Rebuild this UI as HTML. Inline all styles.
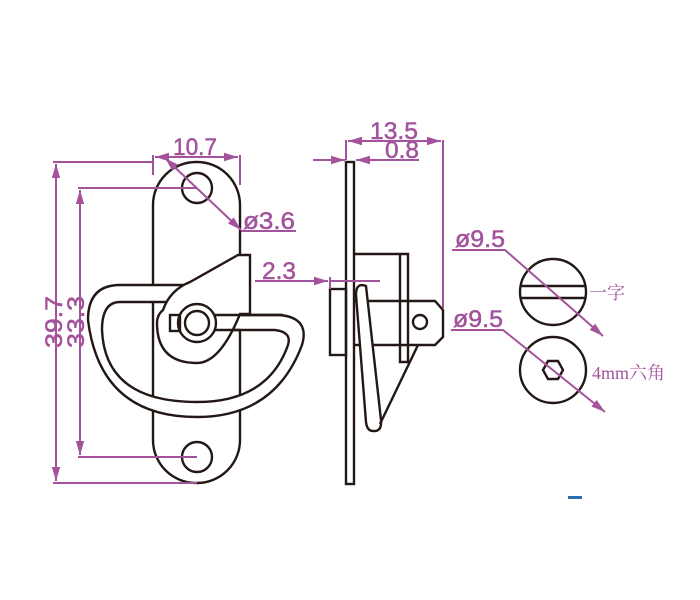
<!DOCTYPE html>
<html><head><meta charset="utf-8"><style>
html,body{margin:0;padding:0;background:#fff;width:700px;height:600px;overflow:hidden}
svg{display:block}
.k{fill:none;stroke:#231815;stroke-width:2.4}
.p{stroke:#a3539c;stroke-width:2;fill:none}
.t{fill:#a3539c;stroke:#a3539c;stroke-width:0.5;font-family:"Liberation Sans",sans-serif;font-size:24px}
.c{fill:#a3539c;font-family:"Liberation Serif","Noto Serif CJK SC",serif;font-size:18px}
</style></head><body>
<svg width="700" height="600" viewBox="0 0 700 600">
<defs><marker id="a" viewBox="0 0 10 10" refX="10" refY="5" markerWidth="9" markerHeight="7" orient="auto-start-reverse"><path d="M0,2 L10,5 L0,8 z" fill="#a3539c"/></marker></defs>
<rect x="153" y="162" width="87" height="321" rx="43" class="k"/>
<circle cx="197" cy="188" r="15" class="k" fill="#fff"/>
<circle cx="197" cy="457" r="15" class="k" fill="#fff"/>
<path d="M183,285 L120,285 Q88,285 88,320 Q100,417 197,417 Q275,417 302,345 Q310,318 280,315 L215,315 L215,330 L275,330 Q292,332 288,345 Q268,402 197,402 Q105,402 102,330 Q102,302 120,302 L190,302 Z" fill="#fff" stroke="#231815" stroke-width="2.4"/>
<path d="M163,310 Q170,290 190,282 L238,255 L250,255 L250,314 L240,314 Q220,363 197,363 Q157,363 157,323 Q157,315 163,310 Z" fill="#fff" stroke="#231815" stroke-width="2.4"/>
<rect x="170" y="315" width="10" height="16" class="k" fill="#fff"/>
<circle cx="197" cy="323" r="19" class="k" fill="#fff"/>
<circle cx="197" cy="323" r="12" class="k"/>
<path d="M215,315 L283,315 M215,330 L240,330" class="k"/>
<path d="M53,162 H153 M53,483 H197 M78,188 H197 M78,457 H197" class="p"/>
<path d="M56,164 V481" class="p" marker-start="url(#a)" marker-end="url(#a)"/>
<path d="M80,190 V455" class="p" marker-start="url(#a)" marker-end="url(#a)"/>
<text class="t" transform="translate(62,348) rotate(-90)" textLength="52" lengthAdjust="spacingAndGlyphs">39.7</text>
<text class="t" transform="translate(84,348) rotate(-90)" textLength="52" lengthAdjust="spacingAndGlyphs">33.3</text>
<path d="M153,155 V175 M240,155 V185" class="p"/>
<path d="M155,157 H238" class="p" marker-start="url(#a)" marker-end="url(#a)"/>
<text class="t" x="173" y="155" textLength="44" lengthAdjust="spacingAndGlyphs">10.7</text>
<path d="M165,158 L241,230" class="p" marker-start="url(#a)" marker-end="url(#a)"/>
<path d="M241,231 H296" class="p"/>
<text class="t" x="243" y="229" textLength="52" lengthAdjust="spacingAndGlyphs">ø3.6</text>
<rect x="346" y="162" width="8" height="322" class="k" fill="#fff"/>
<rect x="330" y="289" width="16" height="66" class="k"/>
<path d="M354,254 H408 V362 H400 V254 M354,301 H435 L443,310 V337 L435,345 H354" class="k"/>
<circle cx="420" cy="322" r="7" class="k"/>
<path d="M356,295 Q356,282 366,286 L381,420 Q382,432 373,431 Q367,431 366,422 Z" fill="#fff" stroke="#231815" stroke-width="2.4"/>
<path d="M380,424 L418,345" class="k"/>
<path d="M346,140 V160 M443,140 V308" class="p"/>
<path d="M348,141 H441" class="p" marker-start="url(#a)" marker-end="url(#a)"/>
<text class="t" x="370" y="139" textLength="48" lengthAdjust="spacingAndGlyphs">13.5</text>
<path d="M313,160 H345" class="p" marker-end="url(#a)"/>
<path d="M378,160 H356" class="p" marker-end="url(#a)"/>
<path d="M378,160 H419" class="p"/>
<text class="t" x="385" y="158" textLength="34" lengthAdjust="spacingAndGlyphs">0.8</text>
<path d="M255,281 H328" class="p" marker-end="url(#a)"/>
<path d="M330,281 H380 M330,277 V289" class="p"/>
<text class="t" x="262" y="279" textLength="34" lengthAdjust="spacingAndGlyphs">2.3</text>
<circle cx="553" cy="292" r="33" class="k"/>
<path d="M520,286 H586 M520,298 H586" class="k"/>
<circle cx="553" cy="370" r="33" class="k"/>
<polygon points="543,370 548,361 558,361 563,370 558,379 548,379" class="k" stroke-width="2"/>
<path d="M452,250 H505 L603,336" class="p" marker-end="url(#a)"/>
<path d="M451,330 H503 L605,412" class="p" marker-end="url(#a)"/>
<text class="t" x="455" y="247" textLength="50" lengthAdjust="spacingAndGlyphs">ø9.5</text>
<text class="t" x="453" y="327" textLength="50" lengthAdjust="spacingAndGlyphs">ø9.5</text>
<text class="c" x="589" y="299">一字</text>
<text class="c" x="592" y="379">4mm六角</text>
<rect x="568" y="496" width="14" height="3" fill="#2a6fa8"/>
</svg>
</body></html>
